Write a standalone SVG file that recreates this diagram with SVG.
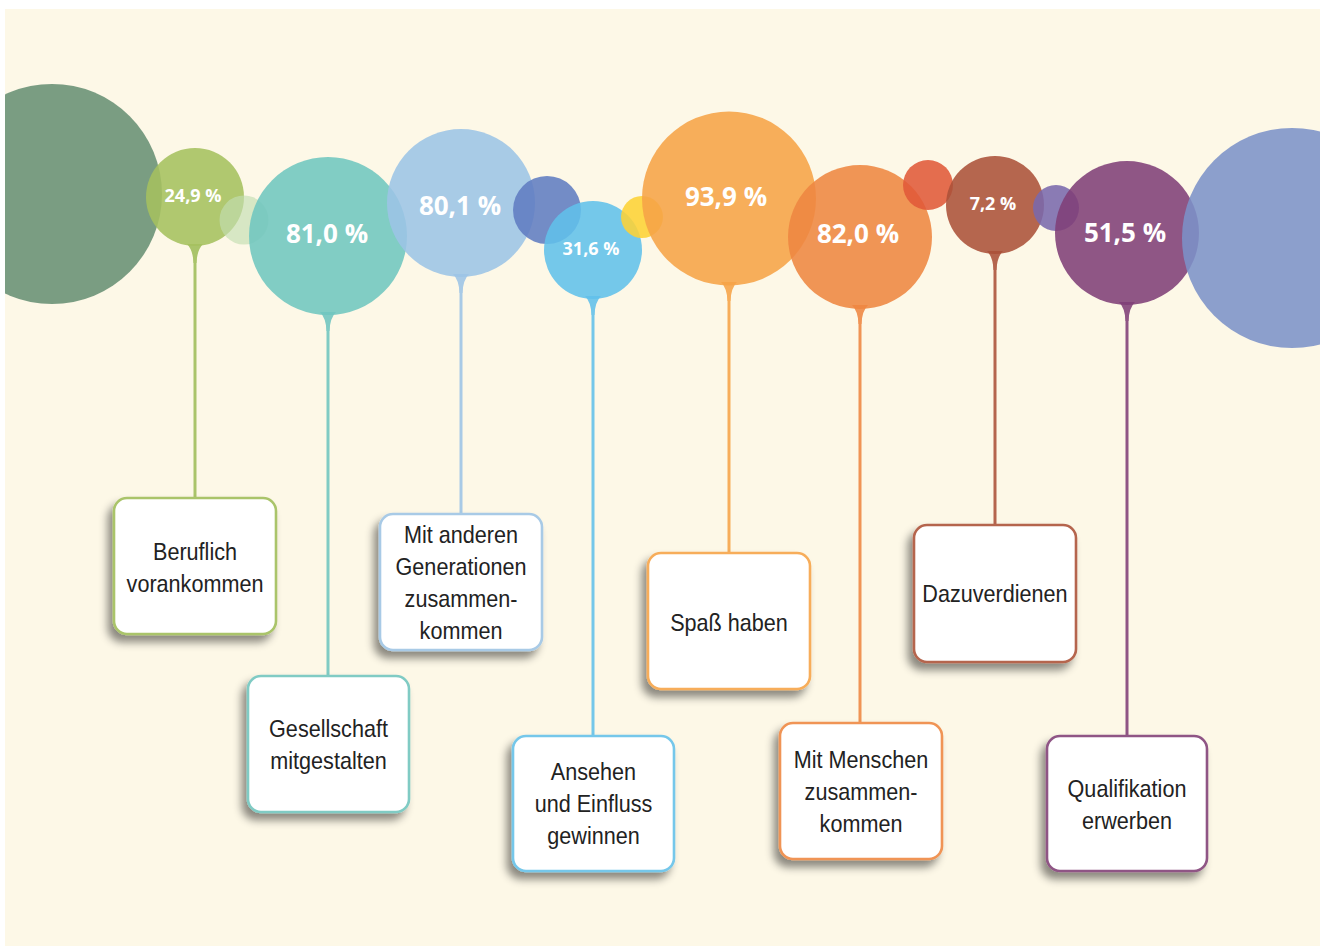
<svg xmlns="http://www.w3.org/2000/svg" width="1322" height="948" viewBox="0 0 1322 948">
<defs>
<clipPath id="bg"><rect x="5" y="9" width="1315" height="937"/></clipPath>
<filter id="sh" x="-20%" y="-20%" width="140%" height="150%">
<feDropShadow dx="-5" dy="7" stdDeviation="4" flood-color="#000" flood-opacity="0.45"/>
</filter>
<style>
.c{opacity:0.88}
.pct{font-family:"Open Sans","Noto Sans",sans-serif;font-weight:700;fill:#fff;text-anchor:middle}
.big{font-size:26px}
.sm{font-size:18px}
.box{fill:#fff;stroke-width:2.6;filter:url(#sh)}
.lbl{font-family:"Liberation Sans",Arial,sans-serif;font-size:24px;fill:#222;text-anchor:middle}
.stem{stroke-width:3;fill:none}
</style>
</defs>
<rect x="0" y="0" width="1322" height="948" fill="#fff"/>
<rect x="5" y="9" width="1315" height="937" fill="#fdf8e7"/>

<g id="connectors">
<line class="stem" x1="195" y1="247" x2="195" y2="498" stroke="#aac46a"/>
<line class="stem" x1="328" y1="315" x2="328" y2="676" stroke="#80cbc4"/>
<line class="stem" x1="461" y1="277" x2="461" y2="514" stroke="#a8cae6"/>
<line class="stem" x1="593" y1="299" x2="593" y2="736" stroke="#74c7ea"/>
<line class="stem" x1="729" y1="285" x2="729" y2="553" stroke="#f7ad5a"/>
<line class="stem" x1="860" y1="308" x2="860" y2="723" stroke="#f09455"/>
<line class="stem" x1="995" y1="254" x2="995" y2="525" stroke="#b5654e"/>
<line class="stem" x1="1127" y1="305" x2="1127" y2="736" stroke="#8f5585"/>
<path d="M187,244 Q193,250 193.5,263 L196.5,263 Q197,250 203,244 Z" fill="#aac46a"/>
<path d="M320,312 Q326,318 326.5,331 L329.5,331 Q330,318 336,312 Z" fill="#80cbc4"/>
<path d="M453,274 Q459,280 459.5,293 L462.5,293 Q463,280 469,274 Z" fill="#a8cae6"/>
<path d="M585,296 Q591,302 591.5,315 L594.5,315 Q595,302 601,296 Z" fill="#74c7ea"/>
<path d="M721,282 Q727,288 727.5,301 L730.5,301 Q731,288 737,282 Z" fill="#f7ad5a"/>
<path d="M852,305 Q858,311 858.5,324 L861.5,324 Q862,311 868,305 Z" fill="#f09455"/>
<path d="M987,251 Q993,257 993.5,270 L996.5,270 Q997,257 1003,251 Z" fill="#b5654e"/>
<path d="M1119,302 Q1125,308 1125.5,321 L1128.5,321 Q1129,308 1135,302 Z" fill="#8f5585"/>
</g>

<g id="bubbles" clip-path="url(#bg)">
<circle class="c" cx="52" cy="194" r="110" fill="#688f74"/>
<circle class="c" cx="195" cy="197" r="49" fill="#a5c05e"/>
<circle cx="244" cy="220" r="24.5" fill="#c3ddb0" opacity="0.65"/>
<circle class="c" cx="328" cy="236" r="79" fill="#6fc6bf"/>
<circle class="c" cx="461" cy="203" r="74" fill="#9cc4e6"/>
<circle class="c" cx="547" cy="210" r="34" fill="#607cc2"/>
<circle class="c" cx="593" cy="250" r="49" fill="#61c0eb"/>
<circle class="c" cx="642" cy="217" r="21" fill="#fdd135"/>
<circle class="c" cx="729" cy="198.5" r="87" fill="#f6a347"/>
<circle class="c" cx="860" cy="237" r="72" fill="#ee8641"/>
<circle class="c" cx="928" cy="185" r="25" fill="#e05939"/>
<circle class="c" cx="995" cy="205" r="49" fill="#ab5139"/>
<circle class="c" cx="1056" cy="208" r="23" fill="#7a69ad"/>
<circle class="c" cx="1127" cy="233" r="72" fill="#803f78"/>
<circle class="c" cx="1292" cy="238" r="110" fill="#7c92c8"/>
</g>

<g id="values">
<text class="pct sm" x="193" y="202">24,9 %</text>
<text class="pct big" x="327" y="243">81,0 %</text>
<text class="pct big" x="460" y="215">80,1 %</text>
<text class="pct sm" x="591" y="255">31,6 %</text>
<text class="pct big" x="726" y="206">93,9 %</text>
<text class="pct big" x="858" y="243">82,0 %</text>
<text class="pct sm" x="993" y="210">7,2 %</text>
<text class="pct big" x="1125" y="242">51,5 %</text>
</g>

<g id="n-beruflich">
<rect class="box" x="114" y="498" width="162" height="136" rx="13" stroke="#aac46a"/>
<text class="lbl" transform="translate(195,560) scale(0.9,1)"><tspan x="0" y="0">Beruflich</tspan><tspan x="0" y="32">vorankommen</tspan></text>
</g>
<g id="n-gesellschaft">
<rect class="box" x="248" y="676" width="161" height="136" rx="13" stroke="#80cbc4"/>
<text class="lbl" transform="translate(328.5,737) scale(0.9,1)"><tspan x="0" y="0">Gesellschaft</tspan><tspan x="0" y="32">mitgestalten</tspan></text>
</g>
<g id="n-generationen">
<rect class="box" x="380" y="514" width="162" height="136" rx="13" stroke="#a8cae6"/>
<text class="lbl" transform="translate(461,543) scale(0.9,1)"><tspan x="0" y="0">Mit anderen</tspan><tspan x="0" y="32">Generationen</tspan><tspan x="0" y="64">zusammen-</tspan><tspan x="0" y="96">kommen</tspan></text>
</g>
<g id="n-ansehen">
<rect class="box" x="513" y="736" width="161" height="135" rx="13" stroke="#74c7ea"/>
<text class="lbl" transform="translate(593.5,780) scale(0.9,1)"><tspan x="0" y="0">Ansehen</tspan><tspan x="0" y="32">und Einfluss</tspan><tspan x="0" y="64">gewinnen</tspan></text>
</g>
<g id="n-spass">
<rect class="box" x="648" y="553" width="162" height="136" rx="13" stroke="#f7ad5a"/>
<text class="lbl" transform="translate(729,631) scale(0.9,1)"><tspan x="0" y="0">Spaß haben</tspan></text>
</g>
<g id="n-menschen">
<rect class="box" x="780" y="723" width="162" height="136" rx="13" stroke="#f09455"/>
<text class="lbl" transform="translate(861,768) scale(0.9,1)"><tspan x="0" y="0">Mit Menschen</tspan><tspan x="0" y="32">zusammen-</tspan><tspan x="0" y="64">kommen</tspan></text>
</g>
<g id="n-dazuverdienen">
<rect class="box" x="914" y="525" width="162" height="137" rx="13" stroke="#b5654e"/>
<text class="lbl" transform="translate(995,602) scale(0.9,1)"><tspan x="0" y="0">Dazuverdienen</tspan></text>
</g>
<g id="n-qualifikation">
<rect class="box" x="1047" y="736" width="160" height="135" rx="13" stroke="#8f5585"/>
<text class="lbl" transform="translate(1127,797) scale(0.9,1)"><tspan x="0" y="0">Qualifikation</tspan><tspan x="0" y="32">erwerben</tspan></text>
</g>
</svg>
